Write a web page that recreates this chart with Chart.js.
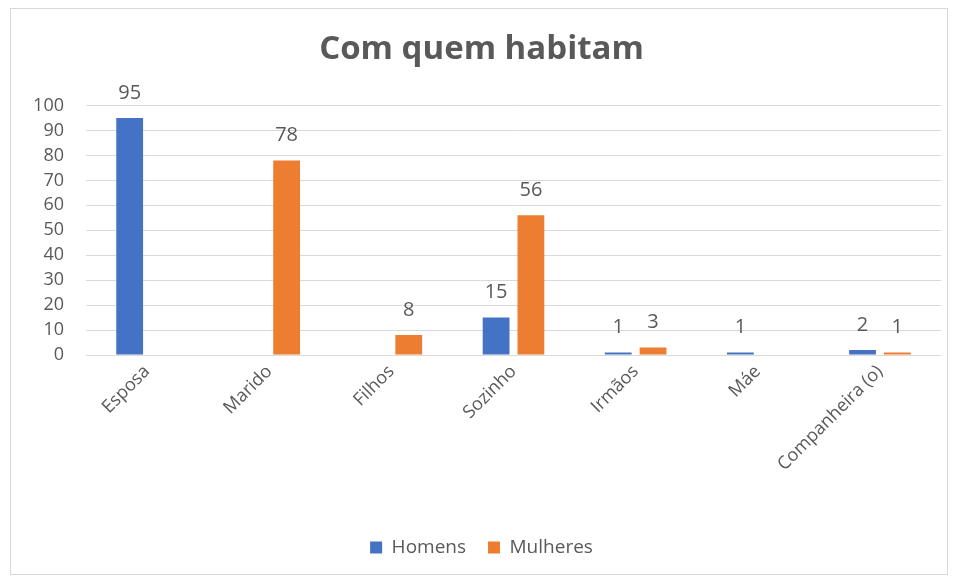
<!DOCTYPE html>
<html>
<head>
<meta charset="utf-8">
<script src="https://cdn.jsdelivr.net/npm/chart.js@4"></script>
<style>
  html, body { margin: 0; padding: 0; background: #fff; }
  #wrap { position: relative; width: 959px; height: 581px; }
</style>
</head>
<body>
<div id="wrap"><canvas id="myChart" width="959" height="581"></canvas></div>
<script>
const labels = ["Esposa", "Marido", "Filhos", "Sozinho", "Irmãos", "Máe", "Companheira (o)"];
const homens = [95, 0, 0, 15, 1, 1, 2];
const mulheres = [0, 78, 8, 56, 3, 0, 1];
const yTicks = [0, 10, 20, 30, 40, 50, 60, 70, 80, 90, 100];

const textColor = "#595959";
const fontFamily = "'Open Sans', 'Noto Sans', sans-serif";

// border around the whole picture + value labels above the bars
const frame = {
  id: "frame",
  beforeDraw(chart) {
    const ctx = chart.ctx;
    ctx.save();
    ctx.fillStyle = "#fff";
    ctx.fillRect(0, 0, chart.width, chart.height);
    ctx.strokeStyle = "#d9d9d9";
    ctx.lineWidth = 1;
    ctx.strokeRect(10.5, 8.5, 937, 566);
    ctx.restore();
  },
};

const valueLabels = {
  id: "valueLabels",
  afterDatasetsDraw(chart) {
    const ctx = chart.ctx;
    ctx.save();
    ctx.fillStyle = textColor;
    ctx.font = "20px " + fontFamily;
    ctx.textAlign = "center";
    ctx.textBaseline = "middle";
    chart.data.datasets.forEach((ds, i) => {
      chart.getDatasetMeta(i).data.forEach((bar, j) => {
        const v = ds.data[j];
        if (!v) return;
        ctx.fillText(String(v), bar.x, bar.y - 25);
      });
    });
    ctx.restore();
  },
};

const data = {
  labels: labels,
  datasets: [
    {
      label: "Homens",
      backgroundColor: "#4472C4",
      data: homens,
    },
    {
      label: "Mulheres",
      backgroundColor: "#ED7D31",
      data: mulheres,
    },
  ],
};

const config = {
  type: "bar",
  data: data,
  plugins: [frame, valueLabels],
  options: {
    responsive: false,
    animation: false,
    layout: { padding: { top: 0, right: 18, bottom: 14, left: 22 } },
    datasets: {
      bar: { categoryPercentage: 0.57, barPercentage: 0.77 },
    },
    scales: {
      x: {
        grid: { display: false, drawTicks: false },
        border: { display: false },
        ticks: {
          color: textColor,
          font: { size: 18, family: fontFamily },
          minRotation: 45,
          maxRotation: 45,
          padding: 6,
        },
        afterFit(scale) { scale.height = 161; },
      },
      y: {
        min: 0,
        max: 100,
        afterBuildTicks(scale) { scale.ticks = yTicks.map(v => ({ value: v })); },
        grid: { color: "#d9d9d9", drawTicks: false },
        border: { display: false },
        ticks: {
          color: textColor,
          font: { size: 18, family: fontFamily },
          padding: 22,
          autoSkip: false,
        },
        afterFit(scale) { scale.width = 64; },
      },
    },
    plugins: {
      title: {
        display: true,
        text: "Com quem habitam",
        color: textColor,
        font: { size: 33, weight: "bold", family: fontFamily },
        padding: { top: 30, bottom: 36 },
      },
      legend: {
        position: "bottom",
        labels: {
          color: textColor,
          font: { size: 19, family: fontFamily },
          boxWidth: 12,
          boxHeight: 12,
          padding: 22,
        },
      },
      tooltip: { enabled: false },
    },
  },
};

const myChart = new Chart(document.getElementById("myChart"), config);
</script>
</body>
</html>
